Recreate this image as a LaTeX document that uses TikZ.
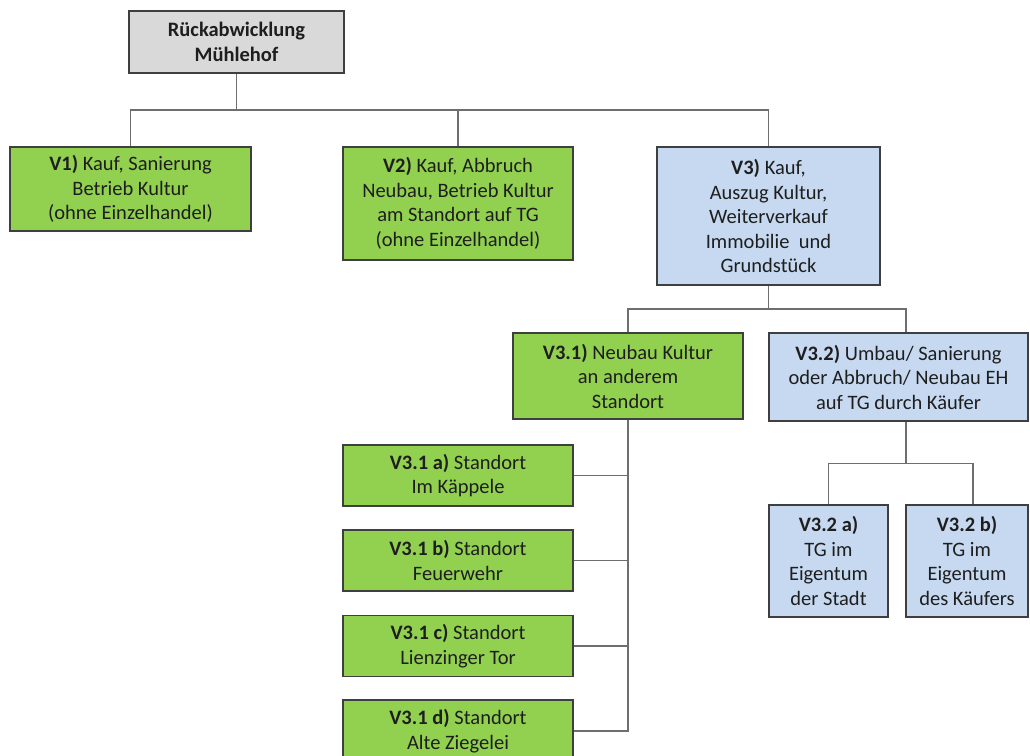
\documentclass[tikz,border=0pt]{standalone}
\usepackage{fontspec}
\setmainfont{Carlito}
\definecolor{boxgreen}{HTML}{92D050}
\definecolor{boxblue}{HTML}{C6D9F1}
\definecolor{boxgray}{HTML}{D9D9D9}
\definecolor{boxline}{HTML}{3F3F3F}
\definecolor{conline}{HTML}{6E6E6E}
\definecolor{txt}{HTML}{1E1E1E}
\begin{document}
\begin{tikzpicture}[x=1pt,y=-1pt,
  box/.style={draw=boxline, line width=1.3pt, inner sep=0pt, align=center,
    text=txt, font=\fontsize{20.5}{24.5}\selectfont},
  greenbox/.style={box, fill=boxgreen},
  bluebox/.style={box, fill=boxblue},
  graybox/.style={box, fill=boxgray},
  con/.style={draw=conline, line width=1.2pt}]
\clip (0,0) rectangle (1030,755);
\fill[white] (0,0) rectangle (1030,755);

\node[graybox, minimum width=215pt, minimum height=62pt] (root) at (236.5,42)
  {\textbf{Rückabwicklung}\\\textbf{Mühlehof}};

\node[greenbox, minimum width=241pt, minimum height=84pt] (v1) at (130.5,189)
  {\textbf{V1)} Kauf, Sanierung\\Betrieb Kultur\\(ohne Einzelhandel)};
\node[greenbox, minimum width=230pt, minimum height=113pt] (v2) at (458,203.5)
  {\textbf{V2)} Kauf, Abbruch\\Neubau, Betrieb Kultur\\am Standort auf TG\\(ohne Einzelhandel)};
\node[bluebox, minimum width=223pt, minimum height=138pt] (v3) at (768.5,216)
  {\textbf{V3)} Kauf,\\Auszug Kultur,\\Weiterverkauf\\Immobilie\ \ und\\Grundstück};

\node[greenbox, minimum width=230pt, minimum height=86pt] (v31) at (628,376)
  {\textbf{V3.1)} Neubau Kultur\\an anderem\\Standort};
\node[bluebox, minimum width=259pt, minimum height=88pt] (v32) at (898.5,377)
  {\textbf{V3.2)} Umbau/ Sanierung\\oder Abbruch/ Neubau EH\\auf TG durch Käufer};

\node[greenbox, minimum width=230pt, minimum height=61pt] (v31a) at (458,475.5)
  {\textbf{V3.1 a)} Standort\\Im Käppele};
\node[greenbox, minimum width=230pt, minimum height=61pt] (v31b) at (458,560.5)
  {\textbf{V3.1 b)} Standort\\Feuerwehr};
\node[greenbox, minimum width=230pt, minimum height=61pt] (v31c) at (458,646)
  {\textbf{V3.1 c)} Standort\\Lienzinger Tor};
\node[greenbox, minimum width=230pt, minimum height=62pt] (v31d) at (458,731)
  {\textbf{V3.1 d)} Standort\\Alte Ziegelei};

\node[bluebox, minimum width=119pt, minimum height=112pt] (v32a) at (828.5,561)
  {\textbf{V3.2 a)}\\TG im\\Eigentum\\der Stadt};
\node[bluebox, minimum width=122pt, minimum height=112pt] (v32b) at (967,561)
  {\textbf{V3.2 b)}\\TG im\\Eigentum\\des Käufers};

% connectors from root
\coordinate (j1) at (236.5,110);
\draw[con] (root.south) -- (j1);
\draw[con] (v1.north) |- (j1) -| (v3.north);
\draw[con] (v2.north) -- (v2.north |- j1);

% connectors from V3
\coordinate (j2) at (768.5,309);
\coordinate (v32top) at ([xshift=7.5pt]v32.north);
\draw[con] (v3.south) -- (j2);
\draw[con] (v31.north) |- (j2) -| (v32top);

% connectors from V3.1
\draw[con] (v31.south) |- (v31d.east);
\draw[con] (v31a.east) -- (v31a.east -| v31.south);
\draw[con] (v31b.east) -- (v31b.east -| v31.south);
\draw[con] (v31c.east) -- (v31c.east -| v31.south);

% connectors from V3.2
\coordinate (v32bot) at ([xshift=7.5pt]v32.south);
\coordinate (j3) at ([yshift=-42pt]v32bot);
\coordinate (v32btop) at ([xshift=6pt]v32b.north);
\draw[con] (v32bot) -- (j3);
\draw[con] (v32a.north) |- (j3) -| (v32btop);
\end{tikzpicture}
\end{document}
